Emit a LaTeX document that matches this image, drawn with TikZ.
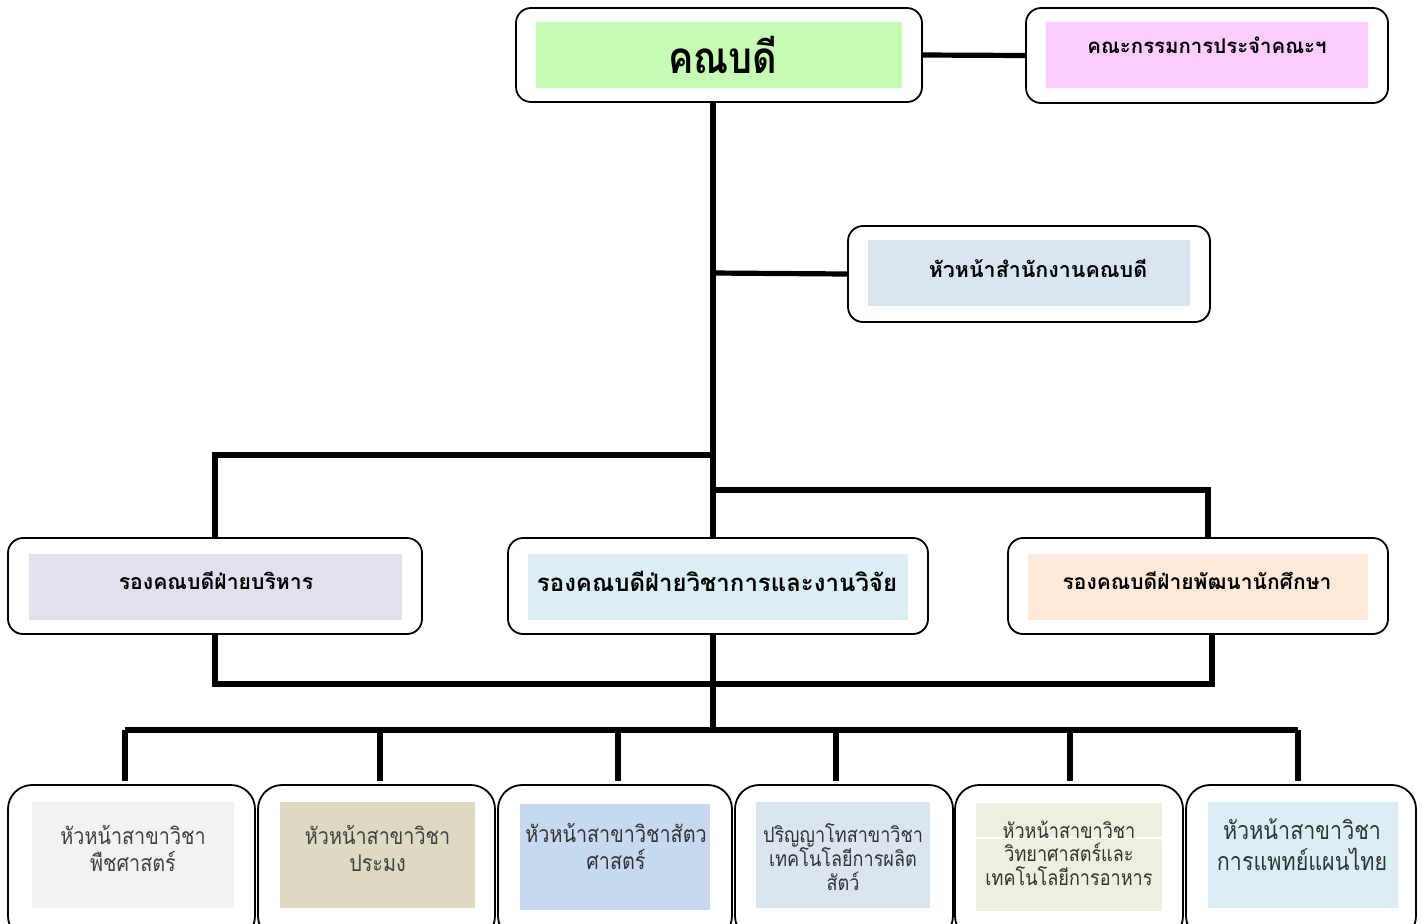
\documentclass[tikz,border=0pt]{standalone}
\usepackage{fontspec}
\newfontfamily\thaifont[Script=Thai]{Loma}
\newfontfamily\thainarrow[Script=Thai,FakeStretch=0.86]{Loma}
\usetikzlibrary{positioning}

\definecolor{deangreen}{RGB}{197,251,178}
\definecolor{boardpink}{RGB}{252,204,252}
\definecolor{officeblue}{RGB}{219,229,241}
\definecolor{adminlav}{RGB}{228,223,236}
\definecolor{acadblue}{RGB}{218,238,243}
\definecolor{studpeach}{RGB}{253,233,217}
\definecolor{plantgray}{RGB}{242,242,242}
\definecolor{fishtan}{RGB}{221,217,195}
\definecolor{animalblue}{RGB}{198,217,240}
\definecolor{gradblue}{RGB}{219,229,241}
\definecolor{foodgreen}{RGB}{235,241,222}
\definecolor{medblue}{RGB}{218,238,243}

\begin{document}
\begin{tikzpicture}[x=0.5pt,y=-0.5pt,link/.style={line width=2.6pt}]
\tikzstyle{frame}=[draw=black,line width=0.9pt,rounded corners=7.5pt,fill=white,inner sep=0pt]
\tikzstyle{frame2}=[frame,rounded corners=12pt]
\tikzstyle{shade}=[draw=none,inner sep=0pt]
\tikzstyle{head}=[font=\thaifont\bfseries\fontsize{10.6}{13}\selectfont,inner sep=0pt]
\tikzstyle{unit}=[font=\thainarrow\fontsize{11.5}{13.5}\selectfont,align=center,text=black!80,inner sep=0pt]

\useasboundingbox (0,0) rectangle (1424,923);
\clip (0,0) rectangle (1424,923);

        % top row
        \node[frame,minimum width=203pt,minimum height=47pt]                 (dean)      at (719,55)      {};
        \node[shade,fill=deangreen,minimum width=183pt,minimum height=33pt]  (deanbg)    at (719,55)      {};
        \node[head,font=\thainarrow\bfseries\fontsize{22}{26}\selectfont]    (deantxt)   at (723,55)      {คณบดี};

        \node[frame,minimum width=181pt,minimum height=47.5pt]               (board)     at (1207,55.5)   {};
        \node[shade,fill=boardpink,minimum width=161pt,minimum height=33pt]  (boardbg)   at (1207,55)     {};
        \node[head,font=\thaifont\bfseries\fontsize{10.2}{13}\selectfont]    (boardtxt)  at (1207,45)     {คณะกรรมการประจำคณะฯ};

        \node[frame,minimum width=181pt,minimum height=48pt]                 (office)    at (1029,274)    {};
        \node[shade,fill=officeblue,minimum width=161pt,minimum height=33pt] (officebg)  at (1029,273)    {};
        \node[head,font=\thaifont\bfseries\fontsize{10.7}{13}\selectfont]    (officetxt) at (1038,268)    {หัวหน้าสำนักงานคณบดี};

        % deputy deans
        \node[frame,minimum width=207pt,minimum height=48pt]                 (admin)     at (215,586)     {};
        \node[shade,fill=adminlav,minimum width=186.5pt,minimum height=33pt] (adminbg)   at (215.5,587)   {};
        \node[head]                                                          (admintxt)  at (216,581)     {รองคณบดีฝ่ายบริหาร};

        \node[frame,minimum width=210pt,minimum height=48pt]                 (acad)      at (718,586)     {};
        \node[shade,fill=acadblue,minimum width=190pt,minimum height=33pt]   (acadbg)    at (718,587)     {};
        \node[head,font=\thaifont\bfseries\fontsize{12}{14}\selectfont]      (acadtxt)   at (717,581)     {รองคณบดีฝ่ายวิชาการและงานวิจัย};

        \node[frame,minimum width=190pt,minimum height=48pt]                 (stud)      at (1198,586)    {};
        \node[shade,fill=studpeach,minimum width=170pt,minimum height=33pt]  (studbg)    at (1198,587)    {};
        \node[head,font=\thaifont\bfseries\fontsize{10.5}{13}\selectfont]    (studtxt)   at (1197,581)    {รองคณบดีฝ่ายพัฒนานักศึกษา};

        % programme heads
        \node[frame2,minimum width=123.5pt,minimum height=77.5pt]            (plant)     at (131.5,862.5) {};
        \node[shade,fill=plantgray,minimum width=101pt,minimum height=53pt]  (plantbg)   at (133,855)     {};
        \node[unit,text=black!75]                                            (planttxt)  at (133,848)     {หัวหน้าสาขาวิชา\\พืชศาสตร์};

        \node[frame2,minimum width=118.5pt,minimum height=77.5pt]            (fish)      at (376.5,862.5) {};
        \node[shade,fill=fishtan,minimum width=97.5pt,minimum height=53pt]   (fishbg)    at (377.5,855)   {};
        \node[unit,text=black!75]                                            (fishtxt)   at (377.5,848)   {หัวหน้าสาขาวิชา\\ประมง};

        \node[frame2,minimum width=117pt,minimum height=77.5pt]              (animal)    at (615,862.5)   {};
        \node[shade,fill=animalblue,minimum width=95pt,minimum height=53pt]  (animalbg)  at (615,857)     {};
        \node[unit]                                                          (animaltxt) at (616,846)     {หัวหน้าสาขาวิชาสัตว\\ศาสตร์};

        \node[frame2,minimum width=109pt,minimum height=77.5pt]              (grad)      at (844,862.5)   {};
        \node[shade,fill=gradblue,minimum width=87pt,minimum height=53pt]    (gradbg)    at (843,855)     {};
        \node[unit,font=\thainarrow\fontsize{10.5}{12}\selectfont]           (gradtxt)   at (843,857)     {ปริญญาโทสาขาวิชา\\เทคโนโลยีการผลิต\\สัตว์};

        \node[frame2,minimum width=114pt,minimum height=77.5pt]              (food)      at (1069,862.5)  {};
        \node[shade,fill=foodgreen,minimum width=93pt,minimum height=54pt]   (foodbg)    at (1069,857)    {};
        \draw[white,line width=0.8pt] (foodbg.west |- 0,838) -- (foodbg.east |- 0,838);
        \node[unit,font=\thainarrow\fontsize{10.5}{11.75}\selectfont]        (foodtxt)   at (1069,853)    {หัวหน้าสาขาวิชา\\วิทยาศาสตร์และ\\เทคโนโลยีการอาหาร};

        \node[frame2,minimum width=115pt,minimum height=77.5pt]              (thaimed)   at (1301,862.5)  {};
        \node[shade,fill=medblue,minimum width=95pt,minimum height=53pt]     (thaimedbg) at (1303,855)    {};
        \node[unit,font=\thainarrow\fontsize{12.5}{15.5}\selectfont]         (thaimedtxt) at (1302,845)   {หัวหน้าสาขาวิชา\\การแพทย์แผนไทย};

        % junctions
        \coordinate (jo)   at (713,273);
        \coordinate (jl)   at (713,455);
        \coordinate (jr)   at (713,490);
        \coordinate (sr)   at (1208,490);
        \coordinate (bl)   at (215,684);
        \coordinate (br)   at (1212,684);
        \coordinate (jbus) at (713,730);
        \coordinate (busl) at (125,730);
        \coordinate (busr) at (1298,730);

        \draw[link] (dean.east) -- (board.west);
        \draw[link] (dean.south -| jo) -- (acad.north -| jo);
        \draw[link] (jo) -- (office.west);
        \draw[link] (jl) -| (admin.north);
        \draw[link] (jr) -- (sr) -- (sr |- stud.north);
        \draw[link] (admin.south) -- (bl) -- (br) -- (br |- stud.south);
        \draw[link] (acad.south -| jbus) -- (jbus);
        \draw[link] (busl) -- (busr);

        \foreach \n/\x in {plant/125,fish/380,animal/618,grad/836,food/1070,thaimed/1298}{
            \coordinate (d\n) at (\x,730);
            \draw[link,shorten >=1.5pt] (d\n) -- (d\n |- \n.north);
        }

\end{tikzpicture}
\end{document}
